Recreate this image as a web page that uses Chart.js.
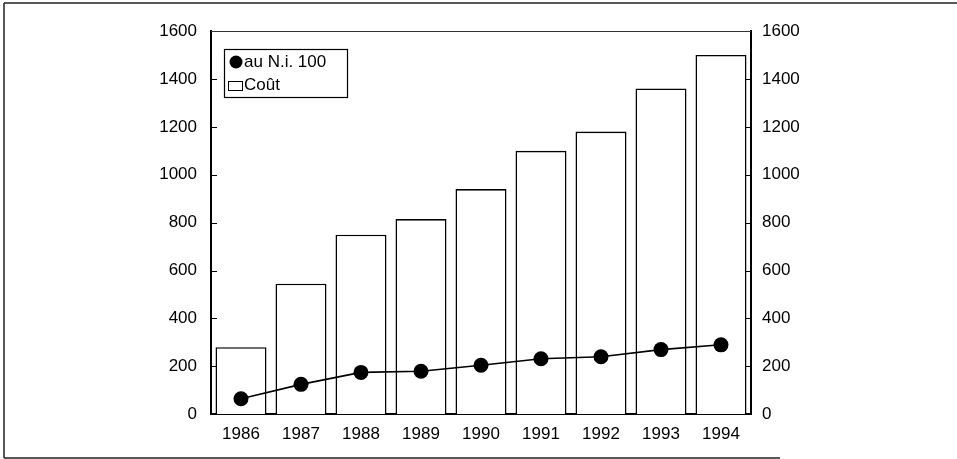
<!DOCTYPE html>
<html><head><meta charset="utf-8">
<script src="https://cdn.jsdelivr.net/npm/chart.js@4/dist/chart.umd.min.js"></script>
<style>html,body{margin:0;padding:0;background:#fff}#wrap{width:957px;height:459px;position:relative}</style>
</head><body><div id="wrap"><canvas id="c"></canvas></div>
<script>
const years = ['1986','1987','1988','1989','1990','1991','1992','1993','1994'];
const coutValues = [280,545,750,815,940,1100,1180,1360,1500];
const niValues = [65,125,175,180,205,232,240,270,290];
const yMin = 0, yMax = 1600, yStep = 200;
const seriesLabels = ['au N.i. 100','Coût'];

const FONT = {family:"'Liberation Sans', Arial, sans-serif", size:17};
const plainNum = v => String(v);

const framePlugin = {
  id:'frame',
  beforeDraw(chart){
    const ctx = chart.ctx;
    ctx.save();
    ctx.strokeStyle = '#222';
    ctx.lineWidth = 1.5;
    ctx.beginPath();
    ctx.moveTo(4,3); ctx.lineTo(957,3);
    ctx.moveTo(4,3); ctx.lineTo(4,458);
    ctx.moveTo(4,458); ctx.lineTo(780,458);
    ctx.stroke();
    ctx.restore();
  },
  afterDraw(chart){
    const ctx = chart.ctx, a = chart.chartArea;
    ctx.save();
    ctx.strokeStyle = '#333';
    ctx.lineWidth = 1;
    ctx.beginPath();
    ctx.moveTo(a.left, a.top+0.5); ctx.lineTo(a.right, a.top+0.5);
    ctx.stroke();
    const y = chart.scales.y;
    ctx.strokeStyle = '#000';
    ctx.lineWidth = 1;
    ctx.beginPath();
    y.ticks.forEach(t => {
      if (t.value === yMin || t.value === yMax) return;
      const py = Math.round(y.getPixelForValue(t.value)) + 0.5;
      ctx.moveTo(a.left, py); ctx.lineTo(a.left+6, py);
      ctx.moveTo(a.right-6, py); ctx.lineTo(a.right, py);
    });
    ctx.stroke();
    ctx.restore();
  }
};

const legendPlugin = {
  id:'boxLegend',
  afterDraw(chart){
    const ctx = chart.ctx;
    const ds = chart.data.datasets;
    const x0 = 224, y0 = 49, w = 123, h = 48;
    ctx.save();
    ctx.fillStyle = '#fff';
    ctx.fillRect(x0, y0, w, h);
    ctx.strokeStyle = '#000';
    ctx.lineWidth = 1.2;
    ctx.strokeRect(x0+0.5, y0+0.5, w, h);
    ctx.font = "17px 'Liberation Sans', Arial, sans-serif";
    ctx.textBaseline = 'middle';
    ctx.fillStyle = '#000';
    ctx.beginPath();
    ctx.arc(236, 62, 6.5, 0, Math.PI*2);
    ctx.fill();
    ctx.fillText(ds[0].label, 244, 62);
    ctx.lineWidth = 1;
    ctx.strokeRect(228.5, 81.5, 14, 9);
    ctx.fillText(ds[1].label, 244, 85);
    ctx.restore();
  }
};

new Chart(document.getElementById('c'), {
  type:'bar',
  data:{
    labels: years,
    datasets:[
      {type:'line', label:seriesLabels[0], data:niValues, borderColor:'#000', borderWidth:1.6,
       backgroundColor:'#000', pointRadius:7.5, pointBackgroundColor:'#000', pointBorderWidth:0,
       tension:0, order:0, yAxisID:'y'},
      {type:'bar', label:seriesLabels[1], data:coutValues, backgroundColor:'#fff', borderColor:'#000',
       borderWidth:1.6, categoryPercentage:1, barPercentage:0.85, order:1, yAxisID:'y'}
    ]
  },
  options:{
    responsive:true, maintainAspectRatio:false, animation:false,
    layout:{padding:{top:31, left:0, right:0, bottom:0}},
    plugins:{legend:{display:false}, tooltip:{enabled:false}},
    scales:{
      x:{
        grid:{display:false, drawTicks:false},
        border:{display:true, color:'#000', width:2},
        ticks:{color:'#000', font:FONT, padding:10, maxRotation:0},
        afterFit(s){ s.height = 44.7; }
      },
      y:{
        position:'left', min:yMin, max:yMax,
        grid:{display:false, drawTicks:false},
        border:{display:true, color:'#000', width:2},
        ticks:{stepSize:yStep, color:'#000', font:FONT, padding:14, callback:plainNum},
        afterFit(s){ s.width = 211; }
      },
      y2:{
        position:'right', min:yMin, max:yMax,
        grid:{display:false, drawTicks:false},
        border:{display:true, color:'#000', width:2},
        ticks:{stepSize:yStep, color:'#000', font:FONT, padding:11, callback:plainNum},
        afterFit(s){ s.width = 206; }
      }
    }
  },
  plugins:[framePlugin, legendPlugin]
});
</script>
</body></html>
